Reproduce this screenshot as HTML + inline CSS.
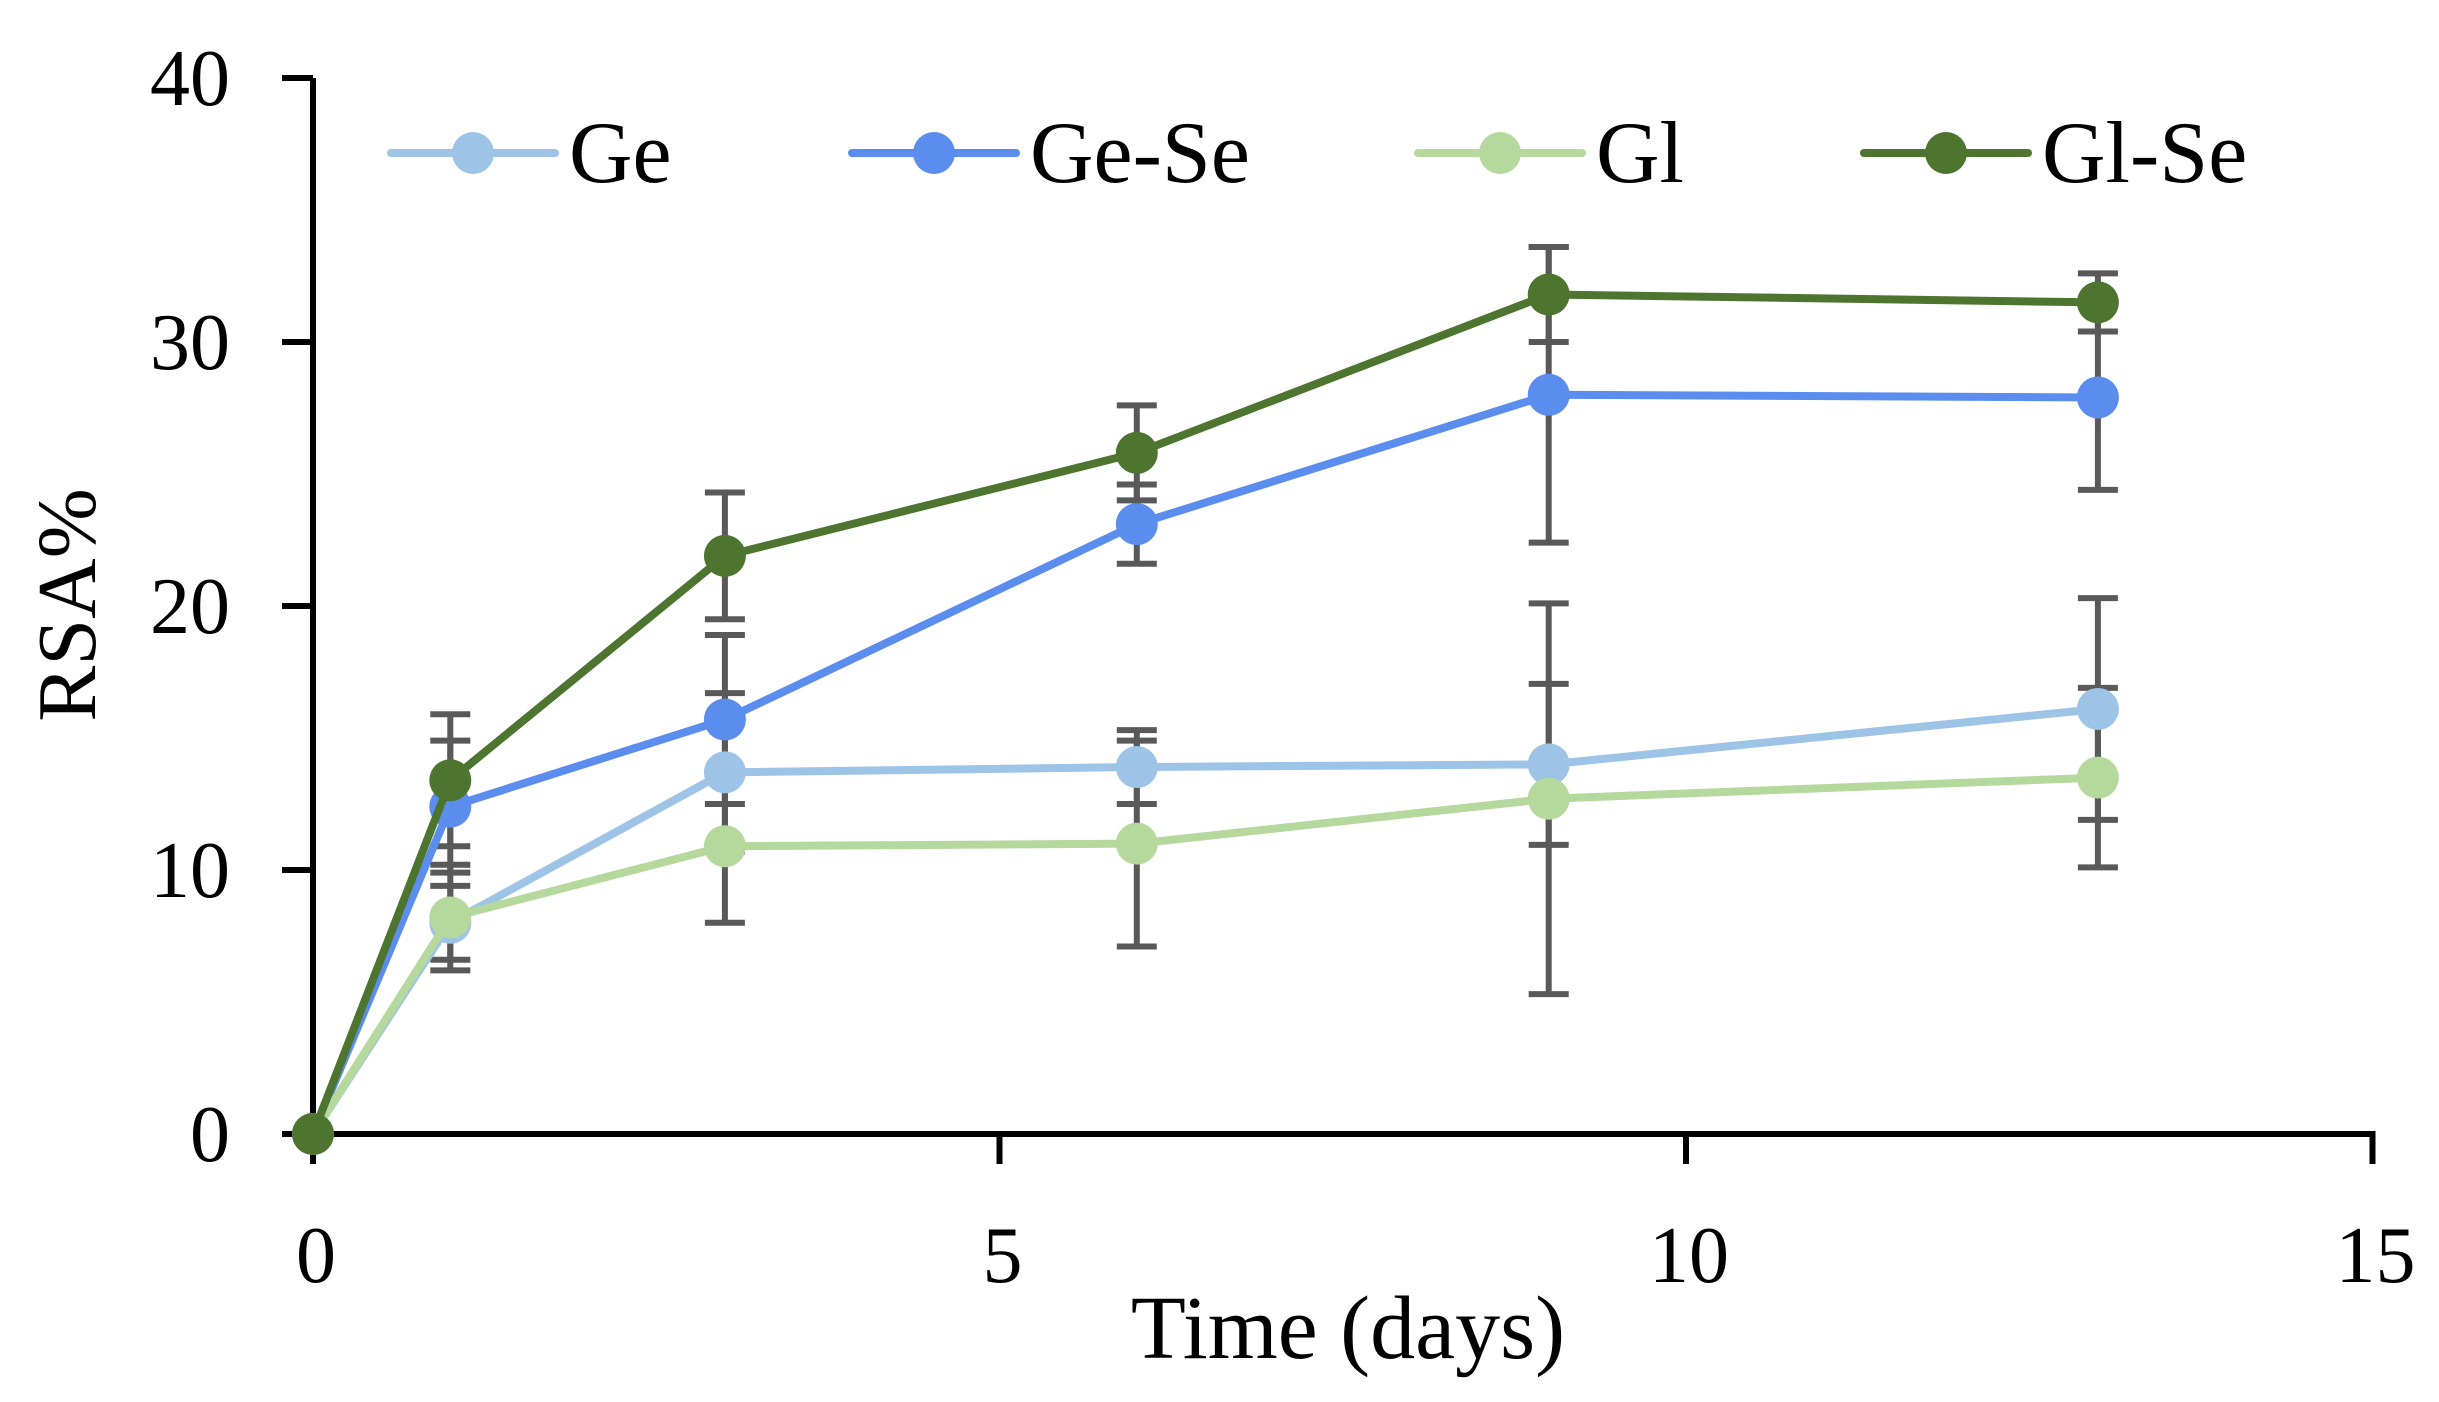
<!DOCTYPE html>
<html><head><meta charset="utf-8"><style>
html,body{margin:0;padding:0;background:#fff;}
svg{display:block;font-family:"Liberation Serif",serif;}
</style></head><body>
<svg id="chart" width="2439" height="1402" viewBox="0 0 2439 1402">
<g id="axes"></g>
<g id="errs"></g>
<g id="series"></g>
<g id="legend"></g>
<text x="1348" y="1358" font-size="90" text-anchor="middle">Time (days)</text>
<text x="0" y="0" font-size="84" text-anchor="middle" transform="translate(95,605) rotate(-90)">RSA%</text>
</svg>
<script>
const days = [0, 1, 3, 6, 9, 13];
const seriesNames = ["Ge", "Ge-Se", "Gl", "Gl-Se"];
const geValues = [0, 8.0, 13.7, 13.9, 14.0, 16.1];
const geSeValues = [0, 12.4, 15.7, 23.1, 28.0, 27.9];
const glValues = [0, 8.2, 10.9, 11.0, 12.7, 13.5];
const glSeValues = [0, 13.4, 21.9, 25.8, 31.8, 31.5];
const geErr = [0, 1.4, 3.0, 1.4, 3.05, 4.2];
const geSeErr = [0, 2.5, 3.2, 1.5, 5.6, 3.5];
const glErr = [0, 2.0, 2.9, 3.9, 7.4, 3.4];
const glSeErr = [0, 2.5, 2.4, 1.8, 1.8, 1.1];
const xTicks = [0, 5, 10, 15];
const yTicks = [0, 10, 20, 30, 40];

const NS = "http://www.w3.org/2000/svg";
const X0 = 313, XU = 137.3, Y0 = 1134, YU = 26.4;
function xs(v){ return X0 + v * XU; }
function ys(v){ return Y0 - v * YU; }
function mk(tag, attrs, parent){
  const e = document.createElementNS(NS, tag);
  for (const k in attrs) e.setAttribute(k, attrs[k]);
  parent.appendChild(e); return e;
}
const axes = document.getElementById('axes');
let l = mk('line', {x1: xs(0), y1: ys(40), x2: xs(0), y2: ys(0)+3, stroke: '#000', 'stroke-width': 6}, axes);


l = mk('line', {x1: xs(0)-3, y1: ys(0), x2: xs(15)+3, y2: ys(0), stroke: '#000', 'stroke-width': 6}, axes);


yTicks.forEach(t => {
  const tk = mk('line', {x1: xs(0)-31, y1: ys(t), x2: xs(0), y2: ys(t), stroke: '#000', 'stroke-width': 6}, axes);
  
  
  const tx = mk('text', {x: 230, y: ys(t)+27, 'font-size': 80, 'text-anchor': 'end'}, axes);
  tx.textContent = t;
  
  
});
xTicks.forEach(t => {
  const tk = mk('line', {x1: xs(t), y1: ys(0), x2: xs(t), y2: ys(0)+30, stroke: '#000', 'stroke-width': 6}, axes);
  
  
  const tx = mk('text', {x: xs(t)+3, y: 1282, 'font-size': 80, 'text-anchor': 'middle'}, axes);
  tx.textContent = t;
  
  
});
const colors = ["#9dc3e6", "#5b8def", "#b5d89d", "#4e7530"];
const vals = [geValues, geSeValues, glValues, glSeValues];
const errs = [geErr, geSeErr, glErr, glSeErr];
const errG = document.getElementById('errs');
vals.forEach((vs, s) => {
  vs.forEach((v, i) => {
    const e = errs[s][i]; if (!e) return;
    const x = xs(days[i]);
    const a = mk('line', {x1: x, y1: ys(v+e), x2: x, y2: ys(v-e), stroke: '#595959', 'stroke-width': 6}, errG);
    
    
    [v+e, v-e].forEach(c => {
      const cp = mk('line', {x1: x-20, y1: ys(c), x2: x+20, y2: ys(c), stroke: '#595959', 'stroke-width': 6}, errG);
      
      
    });
  });
});
const sg = document.getElementById('series');
vals.forEach((vs, s) => {
  const g = mk('g', {}, sg);
  
  
  const p = mk('polyline', {points: vs.map((v, i) => xs(days[i]) + ',' + ys(v)).join(' '), fill: 'none', stroke: colors[s], 'stroke-width': 8, 'stroke-linejoin': 'round'}, g);
  
  
  vs.forEach((v, i) => {
    const c = mk('circle', {cx: xs(days[i]), cy: ys(v), r: 21, fill: colors[s]}, g);
    
    
  });
});
const lg = document.getElementById('legend');
const legX = [391, 852, 1418, 1864];
seriesNames.forEach((n, s) => {
  const g = mk('g', {}, lg);
  
  
  const x = legX[s], y = 153;
  mk('line', {x1: x, y1: y, x2: x+164, y2: y, stroke: colors[s], 'stroke-width': 8, 'stroke-linecap': 'round'}, g);
  mk('circle', {cx: x+82, cy: y, r: 21, fill: colors[s]}, g);
  const t = mk('text', {x: x+178, y: y+29, 'font-size': 88}, g);
  t.textContent = n;
});
</script>
</body></html>
